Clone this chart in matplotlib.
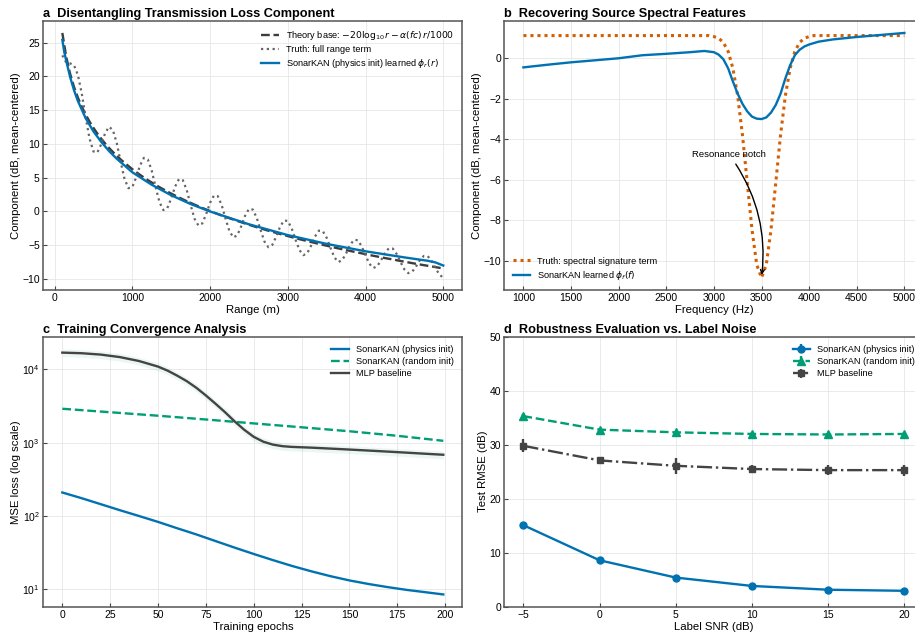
import numpy as np
import matplotlib
matplotlib.use("Agg")
import matplotlib.pyplot as plt

plt.rcParams['font.family'] = ['Liberation Sans', 'DejaVu Sans']
plt.rcParams['mathtext.fontset'] = 'dejavusans'

# ---------------- data ----------------
# a: range term (sampled every 50 m from 100 to 5000 m)
range_m = np.arange(100, 5001, 50)
theory_tl = [26.42, 22.89, 20.38, 18.44, 16.85, 15.50, 14.33, 13.30, 12.37, 11.53,
             10.77, 10.06, 9.41, 8.81, 8.24, 7.70, 7.20, 6.72, 6.26, 5.83,
             5.41, 5.02, 4.64, 4.28, 3.93, 3.59, 3.27, 2.95, 2.65, 2.35,
             2.07, 1.79, 1.52, 1.27, 1.01, 0.77, 0.52, 0.29, 0.06, -0.17,
             -0.38, -0.60, -0.81, -1.01, -1.20, -1.40, -1.59, -1.78, -1.97, -2.15,
             -2.33, -2.50, -2.68, -2.85, -3.00, -3.17, -3.33, -3.49, -3.64, -3.80,
             -3.95, -4.10, -4.24, -4.39, -4.52, -4.66, -4.80, -4.94, -5.07, -5.20,
             -5.34, -5.47, -5.59, -5.72, -5.84, -5.96, -6.08, -6.20, -6.32, -6.44,
             -6.56, -6.67, -6.78, -6.90, -7.00, -7.11, -7.22, -7.33, -7.43, -7.54,
             -7.65, -7.75, -7.85, -7.95, -8.04, -8.14, -8.24, -8.34, -8.43]
truth_tl = [23.1, 22.04, 21.91, 21.64, 20.21, 17.46, 13.96, 10.78, 8.88, 8.71,
            9.94, 11.56, 12.53, 12.06, 10.12, 7.35, 4.82, 3.44, 3.61, 5.05,
            6.82, 7.94, 7.69, 6.04, 3.60, 1.36, 0.20, 0.48, 1.92, 3.67,
            4.79, 4.63, 3.16, 0.96, -1.07, -2.08, -1.78, -0.39, 1.28, 2.36,
            2.26, 0.92, -1.09, -2.94, -3.84, -3.53, -2.22, -0.65, 0.37, 0.28,
            -0.93, -2.76, -4.46, -5.29, -4.96, -3.75, -2.29, -1.34, -1.40, -2.51,
            -4.19, -5.72, -6.47, -6.18, -5.05, -3.71, -2.84, -2.91, -3.90, -5.42,
            -6.81, -7.49, -7.20, -6.20, -4.99, -4.21, -4.25, -5.15, -6.51, -7.76,
            -8.37, -8.11, -7.21, -6.14, -5.44, -5.49, -6.29, -7.50, -8.59, -9.13,
            -8.92, -8.12, -7.18, -6.58, -6.62, -7.33, -8.39, -9.35, -9.81]
learned_r_x = [100, 125, 150, 200, 250, 300, 400, 500, 600, 700, 800, 1000, 1250,
               1500, 1750, 2000, 2500, 3000, 3500, 4000, 4500, 4800, 4900, 5000]
learned_r = [25.4, 23.6, 22.3, 19.9, 17.95, 16.35, 13.8, 11.85, 10.3, 8.95, 7.8, 5.8, 3.95,
             2.4, 1.1, 0.0, -1.9, -3.5, -4.8, -5.9, -6.8, -7.3, -7.55, -8.0]

# b: spectral term
freq_hz = np.arange(1000, 5001, 50)
truth_f = ([1.12] * 40 +
           [1.07, 0.99, 0.78, 0.33, -0.50, -1.86, -3.79, -6.13, -8.45, -10.19,
            -10.83,
            -10.19, -8.45, -6.13, -3.79, -1.86, -0.50, 0.33, 0.78, 0.99, 1.07] +
           [1.12] * 20)
learned_f_x = [1000, 1250, 1500, 1750, 2000, 2250, 2500, 2750, 2900, 3000, 3050, 3100,
               3150, 3200, 3250, 3300, 3350, 3400, 3450, 3500, 3550, 3600, 3650, 3700,
               3750, 3800, 3850, 3900, 3950, 4000, 4100, 4250, 4500, 4750, 5000]
learned_f = [-0.45, -0.32, -0.2, -0.1, 0.0, 0.15, 0.22, 0.3, 0.36, 0.3, 0.18, -0.05,
             -0.5, -1.15, -1.75, -2.25, -2.62, -2.88, -2.98, -3.0, -2.92, -2.68, -2.3, -1.75,
             -1.0, -0.35, 0.15, 0.42, 0.58, 0.68, 0.82, 0.93, 1.05, 1.15, 1.25]

# c: training curves
phys_ep = [0, 10, 20, 30, 40, 50, 60, 70, 80, 90, 100, 110, 120, 130, 140, 150,
           160, 170, 180, 190, 199]
phys_loss = [209, 175, 145, 120, 100, 83, 68, 56, 45.5, 37, 30.3, 25, 20.8, 17.6,
             15.1, 13.2, 11.8, 10.7, 9.8, 9.1, 8.5]
rand_ep = [0, 25, 50, 75, 100, 125, 150, 175, 199]
rand_loss = [2900, 2600, 2330, 2070, 1830, 1620, 1430, 1240, 1060]
mlp_ep = [0, 10, 20, 30, 40, 50, 55, 60, 65, 70, 75, 80, 85, 90, 95, 100, 105, 110,
          115, 120, 130, 140, 150, 160, 170, 180, 190, 199]
mlp_loss = [16900, 16600, 15900, 14700, 13000, 10900, 9600, 8200, 6900, 5600, 4400,
            3400, 2600, 1950, 1500, 1200, 1030, 940, 895, 875, 855, 830, 805, 780,
            755, 730, 705, 684]
mlp_band = 0.12

# d: robustness
snr = [-5, 0, 5, 10, 15, 20]
rmse_phys = [15.1, 8.6, 5.4, 3.85, 3.15, 2.95]
err_phys = [0.3, 0.3, 0.3, 0.2, 0.2, 0.2]
rmse_rand = [35.3, 32.8, 32.3, 32.0, 31.9, 32.0]
err_rand = [0.4, 0.3, 0.3, 0.3, 0.3, 0.3]
rmse_mlp = [29.8, 27.1, 26.1, 25.5, 25.3, 25.3]
err_mlp = [1.2, 0.7, 1.5, 0.8, 0.9, 1.0]

BLUE = '#0072B2'
GREEN = '#009E73'
ORANGE = '#D55E00'
DARK = '#444444'

fig = plt.figure(figsize=(9.15, 6.33), dpi=100)
# right-hand panels run slightly past the image edge, as in the reference
ax_a = fig.add_axes([0.0473, 0.5419, 0.458, 0.4254])
ax_b = fig.add_axes([0.5512, 0.5419, 0.458, 0.4254])
ax_c = fig.add_axes([0.0473, 0.0415, 0.458, 0.4265])
ax_d = fig.add_axes([0.5512, 0.0415, 0.458, 0.4265])

for ax in (ax_a, ax_b, ax_c, ax_d):
    ax.grid(True, color='#e6e6e6', lw=0.6)
    ax.set_axisbelow(True)
    for s in ax.spines.values():
        s.set_color('#555555')
        s.set_linewidth(1.1)
    ax.tick_params(direction='in', labelsize=7.5, color='#444444', length=3, pad=2.5)

LAB = dict(fontsize=8.2, labelpad=1)
LEG = dict(frameon=False, fontsize=6.6, handlelength=1.9, labelspacing=0.35)

def title(ax, letter, text):
    ax.set_title(letter + '  ' + text, loc='left', fontsize=9.2, fontweight='bold', pad=2.5)

# a
ax_a.plot(range_m, theory_tl, ls='--', color='#3d3d3d', lw=1.7,
          label=r'Theory base: $-20\log_{10} r - \alpha(fc)\,r/1000$')
ax_a.plot(range_m, truth_tl, ls=(0, (1, 1.6)), color='#666666', lw=1.6,
          label='Truth: full range term')
ax_a.plot(learned_r_x, learned_r, color=BLUE, lw=1.7,
          label=r'SonarKAN (physics init) learned $\phi_r(r)$')
ax_a.set_xlabel('Range (m)', **LAB)
ax_a.set_ylabel('Component (dB, mean-centered)', **LAB)
ax_a.legend(loc='upper right', **LEG)
title(ax_a, 'a', 'Disentangling Transmission Loss Component')

# b
ax_b.plot(freq_hz, truth_f, ls=(0, (1, 1.3)), color=ORANGE, lw=2.2,
          label='Truth: spectral signature term')
ax_b.plot(learned_f_x, learned_f, color=BLUE, lw=1.7, label=r'SonarKAN learned $\phi_f(f)$')
ax_b.annotate('Resonance notch', xy=(3500, -10.83), xytext=(3160, -4.75),
              fontsize=6.8, ha='center', va='center',
              arrowprops=dict(arrowstyle='->', color='black', lw=1.0,
                              connectionstyle='arc3,rad=-0.2'))
ax_b.set_xticks(np.arange(1000, 5001, 500))
ax_b.set_xlabel('Frequency (Hz)', **LAB)
ax_b.set_ylabel('Component (dB, mean-centered)', **LAB)
ax_b.legend(loc='lower left', **LEG)
title(ax_b, 'b', 'Recovering Source Spectral Features')

# c
mlp_arr = np.array(mlp_loss)
ax_c.fill_between(mlp_ep, mlp_arr * (1 - mlp_band), mlp_arr * (1 + mlp_band),
                  color=GREEN, alpha=0.08, lw=0)
ax_c.plot(phys_ep, phys_loss, color=BLUE, lw=1.7, label='SonarKAN (physics init)')
ax_c.plot(rand_ep, rand_loss, color=GREEN, lw=1.7, ls='--', label='SonarKAN (random init)')
ax_c.plot(mlp_ep, mlp_loss, color=DARK, lw=1.7, label='MLP baseline')
ax_c.set_yscale('log')
ax_c.set_xticks(np.arange(0, 201, 25))
ax_c.set_xlabel('Training epochs', **LAB)
ax_c.set_ylabel('MSE loss (log scale)', **LAB)
ax_c.legend(loc='upper right', **LEG)
ax_c.tick_params(which='minor', length=0)
title(ax_c, 'c', 'Training Convergence Analysis')

# d
ax_d.errorbar(snr, rmse_phys, yerr=err_phys, color=BLUE, lw=1.7, marker='o', ms=5,
              capsize=0, label='SonarKAN (physics init)')
ax_d.errorbar(snr, rmse_rand, yerr=err_rand, color=GREEN, lw=1.7, ls='--', marker='^', ms=5.5,
              capsize=0, label='SonarKAN (random init)')
ax_d.errorbar(snr, rmse_mlp, yerr=err_mlp, color=DARK, lw=1.7, ls='-.', marker='s', ms=5,
              capsize=0, label='MLP baseline')
ax_d.set_ylim(0, 50)
ax_d.set_xticks(snr)
ax_d.set_xlabel('Label SNR (dB)', **LAB)
ax_d.set_ylabel('Test RMSE (dB)', **LAB)
ax_d.legend(loc='upper right', **LEG)
title(ax_d, 'd', 'Robustness Evaluation vs. Label Noise')

fig.savefig('out.png', dpi=100)
